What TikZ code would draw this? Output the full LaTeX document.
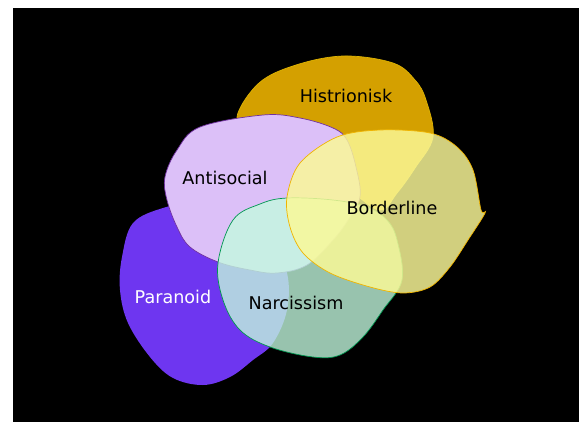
\documentclass[tikz,border=0pt]{standalone}
\usepackage{fontspec}
\setmainfont{DejaVu Sans}
\usepackage{tikz}

\definecolor{histcol}{RGB}{212,160,0}
\definecolor{paracol}{RGB}{110,54,240}
\definecolor{anticol}{RGB}{220,192,248}
\definecolor{narccol}{RGB}{195,251,223}
\definecolor{bordcol}{RGB}{251,249,151}
\definecolor{narcline}{RGB}{0,150,80}
\definecolor{bordline}{RGB}{240,180,0}
\definecolor{antiline}{RGB}{112,48,160}

\begin{document}
\begin{tikzpicture}[x=0.025cm, y=-0.025cm,
    blob/.style={line width=0.5pt},
    lbl/.style={font=\fontsize{12.5}{14}\selectfont, text=black}]
  \useasboundingbox[fill=white] (0,0) rectangle (579,422);
  \fill[black] (13,8) rectangle (579,422);

  % Histrionisk
  \filldraw[blob, fill=histcol, draw=histcol!80!yellow]
    plot[smooth cycle, tension=0.6] coordinates {
      (237,117) (259,83) (296,65) (344,56) (393,63) (415,80)
      (426,100) (433,137) (415,168) (397,193) (380,210)
      (350,190) (300,150) (255,130)};

  % Paranoid
  \fill[paracol]
    plot[smooth cycle, tension=0.6] coordinates {
      (163,208) (133,223) (122,257) (120,290) (128,323) (150,357)
      (173,378) (203,385) (230,377) (253,360) (273,343) (287,310)
      (287,273) (270,240) (230,215) (190,205)};

  % Antisocial
  \filldraw[blob, fill=anticol, draw=antiline]
    plot[smooth cycle, tension=0.6] coordinates {
      (263,115) (300,118) (333,128) (347,140) (356,167) (360,197)
      (348,220) (333,240) (307,265) (277,273) (250,270) (218,262)
      (190,247) (177,227) (167,200) (165,177) (177,150) (200,127)};

  % Narcissism
  \filldraw[blob, fill=narccol, fill opacity=0.78, draw=narcline]
    plot[smooth cycle, tension=0.6] coordinates {
      (287,198) (333,200) (367,207) (387,220) (397,240) (402,280)
      (383,310) (363,337) (340,355) (313,357) (270,347) (240,330)
      (223,300) (218,263) (233,220) (260,204)};

  % Borderline
  \filldraw[blob, fill=bordcol, fill opacity=0.835, draw=bordline]
    plot[smooth cycle, tension=0.55] coordinates {
      (380,130) (430,133) (457,147) (473,170) (481,210) (485,213)
      (468,240) (450,267) (430,287) (403,293) (370,287) (330,273)
      (303,253) (290,227) (287,197) (300,163) (337,137)};

  \node[lbl] (hist) at (346,96) {Histrionisk};
  \node[lbl] (anti) at (225,178) {Antisocial};
  \node[lbl] (bord) at (392,208) {Borderline};
  \node[lbl, text=white] (para) at (173,297) {Paranoid};
  \node[lbl] (narc) at (296,303) {Narcissism};
\end{tikzpicture}
\end{document}
